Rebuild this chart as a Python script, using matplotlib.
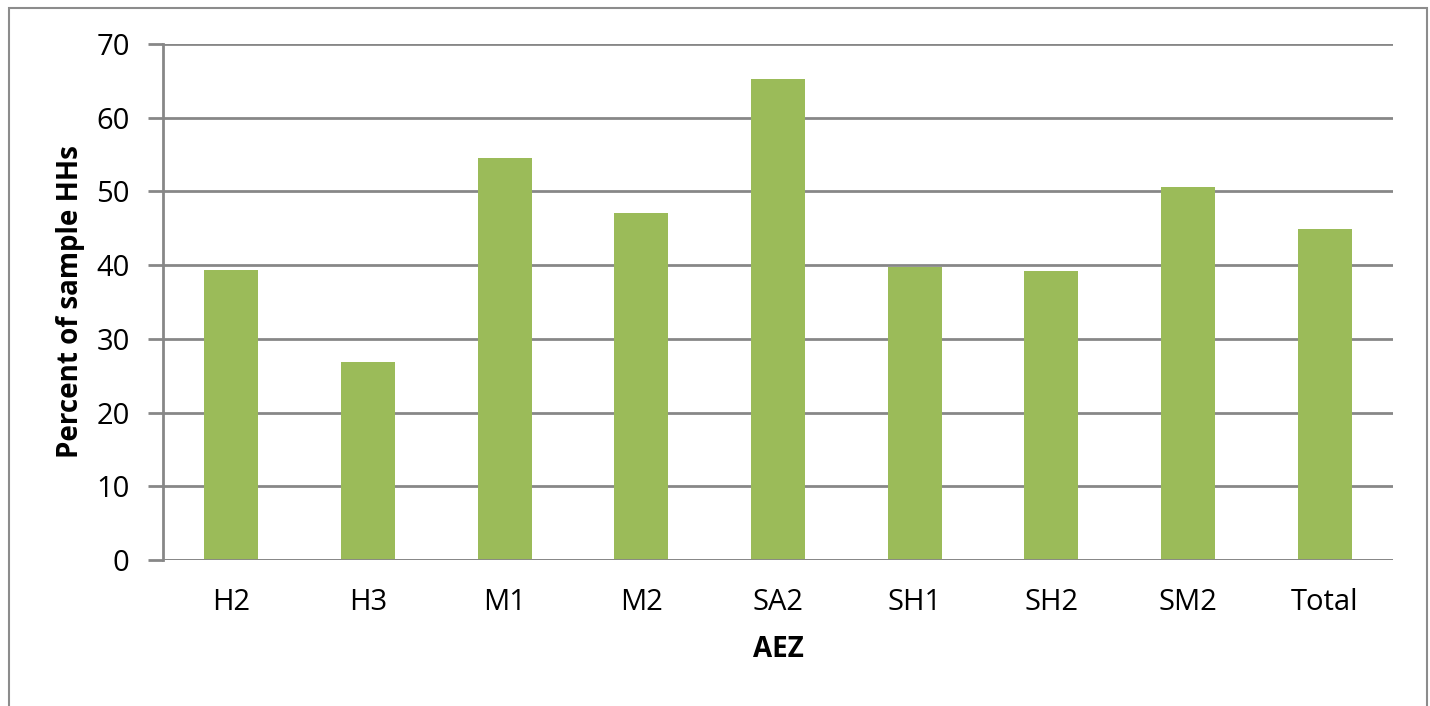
import numpy as np
import matplotlib.pyplot as plt
from matplotlib.patches import Rectangle

# Data
zones = ["H2", "H3", "M1", "M2", "SA2", "SH1", "SH2", "SM2", "Total"]
percent_hhs = [39.3, 26.9, 54.6, 47.1, 65.2, 39.7, 39.2, 50.6, 44.9]
y_ticks = [0, 10, 20, 30, 40, 50, 60, 70]

plt.rcParams['font.family'] = ['Open Sans', 'DejaVu Sans']

fig = plt.figure(figsize=(14.3, 7.06), dpi=100)
ax = fig.add_axes([163/1430, 1 - 560/706, (1393 - 163)/1430, (560 - 44)/706])

# outer chart border
fig.patches.append(Rectangle((8.5/1430, -0.05), (1427 - 8.5)/1430, 1.05 - 8.5/706,
                             transform=fig.transFigure, fill=False,
                             edgecolor='#8c8c8c', linewidth=1.5))

x = np.arange(len(zones))
ax.bar(x, percent_hhs, width=0.395, color='#9BBB59', zorder=3)

ax.set_xlim(-0.5, len(zones) - 0.5)
ax.set_ylim(0, 70)
ax.set_yticks(y_ticks)
ax.set_xticks(x)
ax.set_xticklabels(zones)

grid_col = '#878787'
ax.grid(axis='y', color=grid_col, linewidth=2, zorder=0)
for s in ['top', 'right', 'bottom']:
    ax.spines[s].set_visible(False)
ax.spines['left'].set_color(grid_col)
ax.spines['left'].set_linewidth(2)
ax.axhline(0, color=grid_col, linewidth=2, zorder=4)

ax.tick_params(axis='y', length=11, width=2, color=grid_col, labelsize=21, pad=13)
ax.tick_params(axis='x', length=0, labelsize=21, pad=20)

ax.set_ylabel("Percent of sample HHs", fontsize=20, fontweight='bold', labelpad=8)
ax.set_xlabel("AEZ", fontsize=20, fontweight='bold', labelpad=13)

fig.savefig("out.png", dpi=100)
